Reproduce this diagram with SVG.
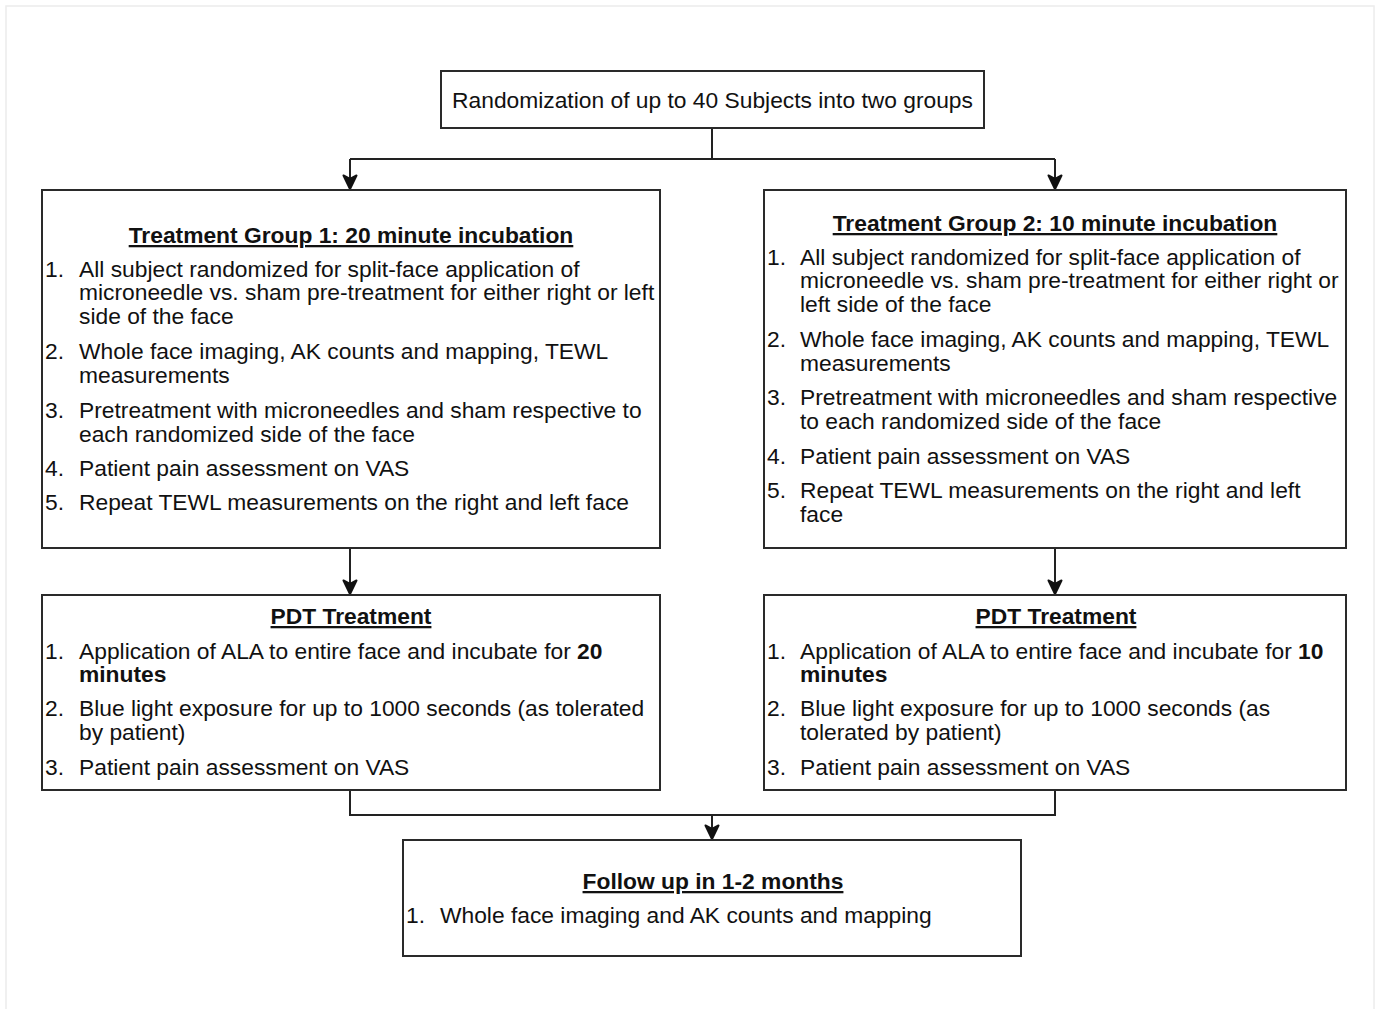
<svg xmlns="http://www.w3.org/2000/svg" width="1379" height="1009" viewBox="0 0 1379 1009">
<style>
  .box { fill: #ffffff; stroke: #2a2a2a; stroke-width: 2; }
  .t { font-family: "Liberation Sans", Arial, sans-serif; font-size: 22.8px; fill: #111111; }
  .title { font-family: "Liberation Sans", Arial, sans-serif; font-size: 22.8px; font-weight: bold; fill: #111111; text-decoration: underline; text-anchor: middle; }
  .b { font-weight: bold; }
  .conn { fill: none; stroke: #222222; stroke-width: 2; }
</style>
<defs>
  <marker id="arrow" markerUnits="userSpaceOnUse" markerWidth="18" markerHeight="18" refX="15" refY="9" orient="auto">
    <path d="M1.5,2.5 L15,9 L1.5,15.5 L5,9 Z" fill="#111111" stroke="#111111" stroke-width="2" stroke-linejoin="round"/>
  </marker>
</defs>
<rect x="0" y="0" width="1379" height="1009" fill="#ffffff"/>
<rect x="6" y="6" width="1368" height="1010" fill="none" stroke="#ececec" stroke-width="1.5"/>

<g id="connectors">
  <path class="conn" d="M712,128 V159 M350,159 H1055"/>
  <path class="conn" d="M350,159 V189" marker-end="url(#arrow)"/>
  <path class="conn" d="M1055,159 V189" marker-end="url(#arrow)"/>
  <path class="conn" d="M350,548 V594" marker-end="url(#arrow)"/>
  <path class="conn" d="M1055,548 V594" marker-end="url(#arrow)"/>
  <path class="conn" d="M350,790 V815 H1055 V790"/>
  <path class="conn" d="M712,815 V839" marker-end="url(#arrow)"/>
</g>

<g id="randomization">
  <rect class="box" x="441" y="71" width="543" height="57"/>
  <text class="t" x="712.5" y="108" text-anchor="middle">Randomization of up to 40 Subjects into two groups</text>
</g>

<g id="group1">
  <rect class="box" x="42" y="190" width="618" height="358"/>
  <text class="title" x="351" y="243">Treatment Group 1: 20 minute incubation</text>
  <text class="t" x="45" y="277">1.</text>
  <text class="t" x="79" y="277">All subject randomized for split-face application of</text>
  <text class="t" x="79" y="300">microneedle vs. sham pre-treatment for either right or left</text>
  <text class="t" x="79" y="324">side of the face</text>
  <text class="t" x="45" y="359">2.</text>
  <text class="t" x="79" y="359">Whole face imaging, AK counts and mapping, TEWL</text>
  <text class="t" x="79" y="383">measurements</text>
  <text class="t" x="45" y="418">3.</text>
  <text class="t" x="79" y="418">Pretreatment with microneedles and sham respective to</text>
  <text class="t" x="79" y="442">each randomized side of the face</text>
  <text class="t" x="45" y="476">4.</text>
  <text class="t" x="79" y="476">Patient pain assessment on VAS</text>
  <text class="t" x="45" y="510">5.</text>
  <text class="t" x="79" y="510">Repeat TEWL measurements on the right and left face</text>
</g>

<g id="group2">
  <rect class="box" x="764" y="190" width="582" height="358"/>
  <text class="title" x="1055" y="231">Treatment Group 2: 10 minute incubation</text>
  <text class="t" x="767" y="265">1.</text>
  <text class="t" x="800" y="265">All subject randomized for split-face application of</text>
  <text class="t" x="800" y="288">microneedle vs. sham pre-treatment for either right or</text>
  <text class="t" x="800" y="312">left side of the face</text>
  <text class="t" x="767" y="347">2.</text>
  <text class="t" x="800" y="347">Whole face imaging, AK counts and mapping, TEWL</text>
  <text class="t" x="800" y="371">measurements</text>
  <text class="t" x="767" y="405">3.</text>
  <text class="t" x="800" y="405">Pretreatment with microneedles and sham respective</text>
  <text class="t" x="800" y="429">to each randomized side of the face</text>
  <text class="t" x="767" y="464">4.</text>
  <text class="t" x="800" y="464">Patient pain assessment on VAS</text>
  <text class="t" x="767" y="498">5.</text>
  <text class="t" x="800" y="498">Repeat TEWL measurements on the right and left</text>
  <text class="t" x="800" y="522">face</text>
</g>

<g id="pdt1">
  <rect class="box" x="42" y="595" width="618" height="195"/>
  <text class="title" x="351" y="624">PDT Treatment</text>
  <text class="t" x="45" y="659">1.</text>
  <text class="t" x="79" y="659">Application of ALA to entire face and incubate for <tspan class="b">20</tspan></text>
  <text class="t b" x="79" y="682">minutes</text>
  <text class="t" x="45" y="716">2.</text>
  <text class="t" x="79" y="716">Blue light exposure for up to 1000 seconds (as tolerated</text>
  <text class="t" x="79" y="740">by patient)</text>
  <text class="t" x="45" y="775">3.</text>
  <text class="t" x="79" y="775">Patient pain assessment on VAS</text>
</g>

<g id="pdt2">
  <rect class="box" x="764" y="595" width="582" height="195"/>
  <text class="title" x="1056" y="624">PDT Treatment</text>
  <text class="t" x="767" y="659">1.</text>
  <text class="t" x="800" y="659">Application of ALA to entire face and incubate for <tspan class="b">10</tspan></text>
  <text class="t b" x="800" y="682">minutes</text>
  <text class="t" x="767" y="716">2.</text>
  <text class="t" x="800" y="716">Blue light exposure for up to 1000 seconds (as</text>
  <text class="t" x="800" y="740">tolerated by patient)</text>
  <text class="t" x="767" y="775">3.</text>
  <text class="t" x="800" y="775">Patient pain assessment on VAS</text>
</g>

<g id="followup">
  <rect class="box" x="403" y="840" width="618" height="116"/>
  <text class="title" x="713" y="889">Follow up in 1-2 months</text>
  <text class="t" x="406" y="923">1.</text>
  <text class="t" x="440" y="923">Whole face imaging and AK counts and mapping</text>
</g>
</svg>
